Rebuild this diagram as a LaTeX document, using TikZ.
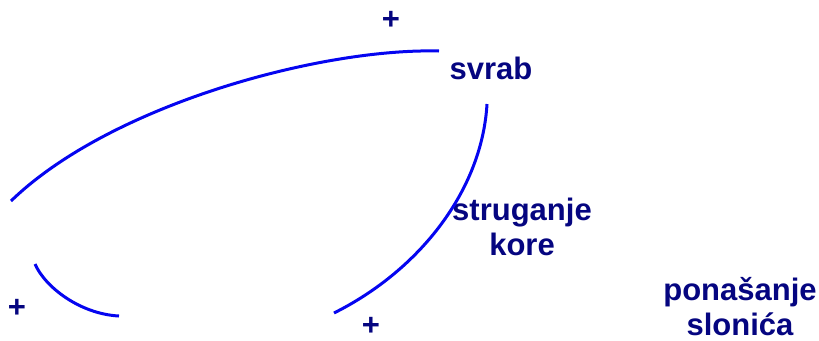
\documentclass[tikz,border=0pt]{standalone}
\usepackage{fontspec}
\setmainfont{Liberation Sans}
\usepackage{xcolor}
\usepackage{tikz}
\definecolor{txtnavy}{RGB}{5,5,128}
\definecolor{loopblue}{RGB}{5,5,240}

\begin{document}
\begin{tikzpicture}[x=1pt,y=-1pt,
   lbl/.style={font=\bfseries\fontsize{31}{35}\selectfont,text=txtnavy,
               align=center,inner sep=0pt},
   sgn/.style={font=\bfseries\fontsize{31}{35}\selectfont,text=txtnavy,inner sep=0pt},
   lnk/.style={draw=loopblue,line width=3pt}]
  \useasboundingbox (0,0) rectangle (819,340);
  % variables
  \node[lbl,anchor=base] (svrab) at (491,79) {svrab};
  \node[lbl] (strug) at (522,227) {struganje\\kore};
  \node[lbl] (slon) at (740,307) {ponašanje\\slonića};
  % polarities
  \node[sgn] (p1) at (391,20) {+};
  \node[sgn] (p2) at (17,308) {+};
  \node[sgn] (p3) at (371,326) {+};
  % link ends
  \coordinate (a1) at (439,51);
  \coordinate (b1) at (11,201);
  \coordinate (a2) at (487,104);
  \coordinate (b2) at (334,313);
  \coordinate (a3) at (35,264);
  \coordinate (b3) at (119,316);
  \draw[lnk] (a1) .. controls (320,48) and (110,105) .. (b1);
  \draw[lnk] (a2) .. controls (482,190) and (420,270) .. (b2);
  \draw[lnk] (a3) .. controls (45,287) and (80,314) .. (b3);
\end{tikzpicture}
\end{document}
